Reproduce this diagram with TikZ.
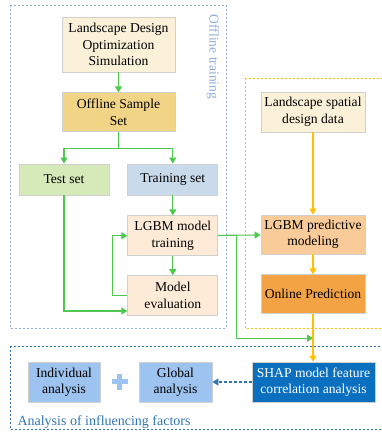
\documentclass[tikz,border=0pt]{standalone}
\usepackage{fontspec}
\setmainfont{Liberation Serif}
\usetikzlibrary{arrows.meta,positioning,calc}
\definecolor{creme}{HTML}{FBF1D9}
\definecolor{or}{HTML}{F2D487}
\definecolor{vertC}{HTML}{D6E9B8}
\definecolor{bleuG}{HTML}{C9DAEB}
\definecolor{peche}{HTML}{FDEBD7}
\definecolor{orC}{HTML}{F8CB98}
\definecolor{orF}{HTML}{F3A244}
\definecolor{bleuA}{HTML}{9DC3F0}
\definecolor{bleuS}{HTML}{0B6FBF}
\definecolor{bleuT}{HTML}{2E75B6}
\definecolor{bleuL}{HTML}{8FAADC}
\definecolor{vert}{RGB}{80,200,80}
\definecolor{jaune}{HTML}{FFC000}
\definecolor{bord}{HTML}{D0D0D0}
\tikzset{
  stage/.style={rectangle, draw=bord, line width=0.8pt, fill=#1, align=center,
                font=\fontsize{13.6}{16.5}\selectfont, inner sep=1pt},
  garr/.style={-{Triangle[length=6pt,width=7pt]}, line width=1.1pt, draw=vert},
  oarr/.style={-{Triangle[length=6pt,width=7pt]}, line width=1.1pt, draw=jaune},
  barr/.style={-{Triangle[length=6pt,width=7pt]}, line width=1.1pt, draw=bleuT,
               dash pattern=on 3pt off 2pt},
  frame/.style={draw=#1, line width=0.8pt, dash pattern=on 2pt off 2pt},
}
\begin{document}
\begin{tikzpicture}[x=1pt, y=1pt, node distance=20pt]
    \useasboundingbox (0,0) rectangle (381,433);
    % dashed frames
    \draw[frame=bleuL] (10,428) rectangle (226,105);
    \draw[frame=jaune] (245,355) rectangle (384,105);
    \draw[frame=bleuT] (10,87) rectangle (384,4);
    \node[rotate=-90, text=bleuL, font=\fontsize{13.5}{15}\selectfont] (offlab) at (213,376) {Offline training};
    \node[anchor=base west, text=bleuT, font=\fontsize{14}{16}\selectfont] (anlab) at (14,8) {Analysis of influencing factors};
    % offline training
    \node[stage=creme, minimum width=113pt, minimum height=55pt] (sim) at (118.5,388.5)
      {Landscape Design\\Optimization\\Simulation};
    \node[stage=or, minimum width=113pt, minimum height=39pt, below=of sim] (sample) {Offline Sample\\Set};
    \node[stage=vertC, minimum width=90pt, minimum height=31pt] (test) at (64,253.5) {Test set};
    \node[stage=bleuG, minimum width=90pt, minimum height=31pt, right=18pt of test] (train) {Training set};
    \node[stage=peche, minimum width=90pt, minimum height=40pt, below=of train] (lgbm) {LGBM model\\training};
    \node[stage=peche, minimum width=90pt, minimum height=40pt, below=19pt of lgbm] (eval) {Model\\evaluation};
    % online part
    \node[stage=creme, minimum width=104pt, minimum height=40pt] (spatial) at (313,321)
      {Landscape spatial\\design data};
    \node[stage=orC, minimum width=104pt, minimum height=39pt] (pred) at (313,198.5) {LGBM predictive\\modeling};
    \node[stage=orF, minimum width=104pt, minimum height=39pt, below=of pred] (online) {Online Prediction};
    % influencing factors
    \node[stage=bleuS, text=white, minimum width=123pt, minimum height=40pt] (shap) at (313.5,51)
      {SHAP model feature\\correlation analysis};
    \node[stage=bleuA, minimum width=73pt, minimum height=40pt] (global) at (175.5,51) {Global\\analysis};
    \node[stage=bleuA, minimum width=72pt, minimum height=40pt] (indiv) at (64,51) {Individual\\analysis};
    \coordinate (plus) at ($(indiv.east)!0.5!(global.west)$);
    \draw[line width=5pt, draw=bleuA] (plus)+(-8,0) -- +(8,0) (plus)+(0,-8) -- +(0,8);
    % connectors
    \draw[garr] (sim) -- (sample);
    \draw[garr] (sample.south) -- ++(0,-16) -| (test);
    \draw[garr] (sample.south) -- ++(0,-16) -| (train);
    \draw[garr] (train) -- (lgbm);
    \draw[garr] (lgbm) -- (eval);
    \draw[garr] (test.south) |- ($(eval.south west)+(0,5)$);
    \draw[garr] (eval.west) -- ++(-15,0) |- (lgbm.west);
    \draw[garr] (lgbm) -- (pred);
    \coordinate (jonc) at ($(online.south)+(0,-24)$);
    \draw[garr] (lgbm.east) -- ++(18,0) |- (jonc);
    \draw[oarr] (spatial) -- (pred);
    \draw[oarr] (pred) -- (online);
    \draw[oarr] (online) -- (online |- shap.north);
    \draw[barr] (shap) -- (global);
  \end{tikzpicture}
\end{document}
